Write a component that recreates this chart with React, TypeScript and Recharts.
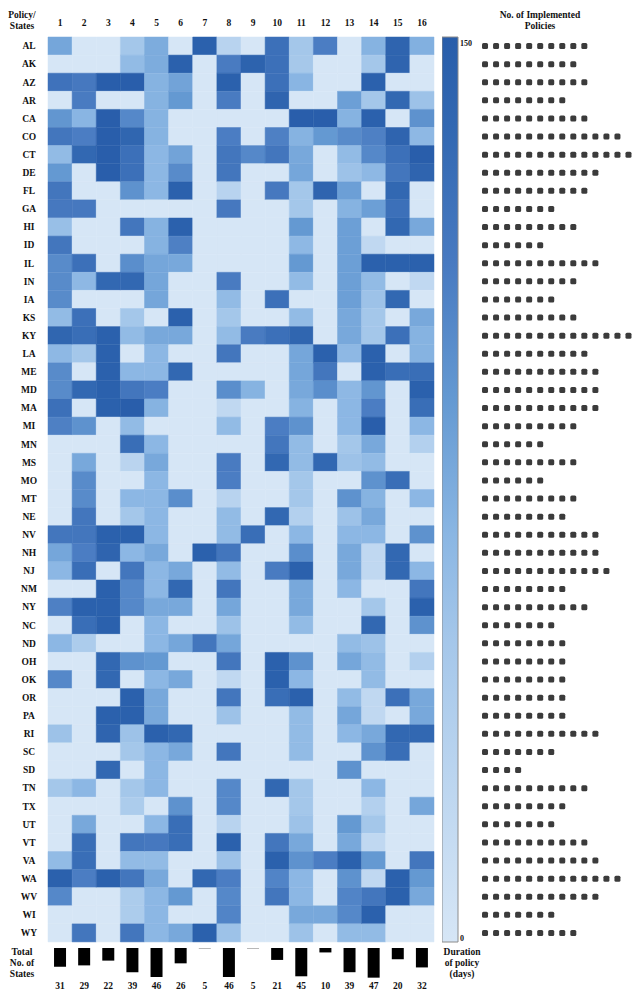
import { BarChart, Bar, XAxis, YAxis, Cell, ScatterChart, Scatter } from "recharts";

const states = [
  "AL", "AK", "AZ", "AR", "CA", "CO", "CT", "DE", "FL", "GA", "HI", "ID", "IL", "IN", "IA", "KS", "KY",
  "LA", "ME", "MD", "MA", "MI", "MN", "MS", "MO", "MT", "NE", "NV", "NH", "NJ", "NM", "NY", "NC", "ND",
  "OH", "OK", "OR", "PA", "RI", "SC", "SD", "TN", "TX", "UT", "VT", "VA", "WA", "WV", "WI", "WY",
];

const policies = ["1", "2", "3", "4", "5", "6", "7", "8", "9", "10", "11", "12", "13", "14", "15", "16"];

// total number of states per policy (bottom bars)
const totals = [31, 29, 22, 39, 46, 26, 5, 46, 5, 21, 45, 10, 39, 47, 20, 32];

// number of implemented policies per state (dot rows)
const implemented = [
  10, 9, 10, 8, 10, 13, 14, 11, 10, 7, 9, 6, 11, 9, 7, 9, 14,
  10, 11, 11, 11, 9, 6, 9, 6, 9, 8, 11, 11, 12, 8, 10, 7, 8,
  8, 8, 8, 8, 11, 7, 4, 10, 8, 7, 10, 11, 13, 11, 7, 9,
];

// duration of policy (days), one row per state, one column per policy
const duration = [
  [80, 0, 0, 50, 75, 0, 145, 30, 0, 125, 50, 110, 0, 70, 140, 72],
  [0, 0, 0, 62, 75, 145, 0, 112, 142, 125, 48, 0, 0, 50, 140, 0],
  [122, 115, 148, 148, 70, 82, 0, 145, 0, 125, 68, 0, 0, 145, 0, 0],
  [0, 112, 0, 0, 70, 90, 0, 112, 0, 140, 0, 0, 85, 50, 135, 55],
  [92, 68, 148, 102, 70, 0, 0, 0, 0, 0, 148, 148, 70, 145, 0, 95],
  [118, 110, 148, 138, 70, 0, 0, 110, 0, 108, 70, 90, 100, 108, 140, 65],
  [62, 135, 148, 125, 66, 82, 0, 118, 102, 118, 78, 0, 62, 102, 125, 148],
  [90, 0, 148, 125, 66, 100, 0, 118, 0, 0, 80, 0, 55, 65, 118, 140],
  [118, 0, 0, 95, 66, 145, 0, 30, 0, 115, 50, 140, 85, 0, 135, 0],
  [115, 115, 0, 0, 0, 0, 0, 115, 0, 0, 50, 0, 70, 85, 125, 0],
  [58, 0, 0, 118, 70, 145, 0, 0, 0, 0, 90, 0, 85, 0, 135, 78],
  [118, 0, 0, 0, 70, 108, 0, 0, 0, 0, 65, 0, 85, 22, 0, 0],
  [100, 125, 0, 98, 80, 78, 0, 0, 0, 0, 90, 0, 85, 145, 145, 145],
  [100, 65, 135, 135, 80, 0, 0, 112, 0, 0, 62, 0, 85, 62, 0, 22],
  [100, 0, 0, 0, 80, 0, 0, 62, 0, 125, 0, 0, 85, 55, 135, 0],
  [62, 125, 0, 50, 0, 145, 0, 50, 0, 0, 62, 0, 78, 50, 0, 78],
  [138, 128, 145, 62, 78, 78, 0, 62, 112, 125, 138, 0, 78, 50, 125, 70],
  [65, 50, 145, 0, 66, 0, 0, 118, 0, 0, 80, 145, 65, 145, 0, 70],
  [100, 0, 145, 66, 66, 135, 0, 0, 0, 0, 80, 118, 0, 145, 128, 128],
  [100, 135, 145, 118, 110, 0, 0, 98, 70, 0, 78, 98, 65, 92, 0, 145],
  [125, 0, 145, 148, 70, 0, 0, 22, 0, 0, 70, 0, 66, 110, 0, 128],
  [108, 95, 0, 62, 0, 0, 0, 62, 0, 110, 95, 0, 66, 148, 0, 66],
  [0, 0, 0, 128, 66, 0, 0, 0, 0, 118, 62, 0, 50, 78, 0, 35],
  [0, 78, 0, 28, 78, 0, 0, 112, 0, 135, 62, 135, 55, 62, 0, 0],
  [0, 100, 0, 0, 66, 0, 0, 110, 0, 0, 50, 0, 0, 95, 128, 0],
  [0, 100, 0, 66, 66, 98, 0, 30, 0, 0, 50, 0, 95, 70, 0, 66],
  [0, 118, 0, 50, 66, 0, 0, 62, 0, 135, 35, 0, 55, 78, 0, 0],
  [118, 118, 145, 145, 66, 0, 0, 62, 128, 0, 66, 0, 66, 66, 0, 95],
  [80, 110, 140, 66, 78, 0, 145, 118, 0, 0, 98, 0, 78, 22, 135, 0],
  [66, 128, 0, 118, 66, 78, 0, 62, 0, 112, 145, 0, 78, 22, 135, 66],
  [0, 0, 145, 102, 66, 135, 0, 118, 0, 0, 78, 0, 66, 0, 0, 118],
  [108, 145, 145, 102, 78, 78, 0, 80, 0, 0, 78, 0, 0, 50, 0, 145],
  [0, 128, 145, 0, 66, 0, 0, 55, 0, 0, 62, 0, 0, 135, 0, 95],
  [66, 42, 0, 0, 66, 80, 118, 80, 0, 0, 0, 0, 62, 55, 0, 0],
  [0, 0, 135, 95, 90, 0, 0, 118, 0, 145, 95, 0, 80, 62, 0, 35],
  [102, 0, 135, 0, 66, 78, 0, 22, 0, 145, 66, 0, 0, 62, 0, 0],
  [0, 0, 0, 145, 78, 0, 0, 118, 0, 128, 145, 0, 62, 22, 125, 78],
  [0, 0, 145, 145, 78, 0, 0, 55, 0, 0, 62, 0, 80, 22, 0, 78],
  [55, 0, 140, 55, 145, 135, 0, 0, 0, 0, 62, 0, 66, 78, 135, 135],
  [0, 0, 0, 50, 66, 78, 0, 118, 0, 0, 62, 0, 0, 95, 128, 0],
  [0, 0, 135, 0, 66, 0, 0, 0, 0, 0, 0, 0, 95, 0, 0, 0],
  [50, 66, 0, 50, 66, 0, 0, 102, 0, 135, 50, 0, 0, 66, 0, 0],
  [0, 0, 0, 42, 0, 95, 0, 102, 0, 0, 50, 0, 0, 35, 0, 80],
  [0, 78, 0, 0, 66, 128, 0, 30, 0, 0, 55, 0, 90, 50, 0, 0],
  [0, 128, 0, 118, 115, 128, 0, 145, 0, 118, 78, 0, 78, 22, 0, 0],
  [62, 128, 0, 62, 62, 0, 0, 55, 0, 145, 95, 110, 145, 90, 0, 118],
  [145, 110, 145, 118, 78, 0, 135, 110, 0, 105, 66, 0, 95, 22, 145, 90],
  [102, 0, 0, 42, 66, 90, 0, 102, 0, 118, 66, 0, 105, 118, 145, 78],
  [0, 0, 0, 42, 66, 0, 0, 105, 0, 0, 78, 78, 102, 145, 0, 0],
  [0, 118, 0, 118, 66, 78, 145, 55, 0, 0, 55, 0, 62, 62, 0, 0],
];

const MAX_DAYS = 150;

const stops: [number, number[]][] = [
  [0, [214, 230, 246]],
  [0.33, [165, 199, 234]],
  [0.45, [138, 182, 227]],
  [0.6, [100, 153, 210]],
  [0.75, [72, 122, 193]],
  [0.9, [50, 104, 178]],
  [1, [40, 93, 170]],
];

function color(v: number) {
  const t = Math.max(0, Math.min(1, v / MAX_DAYS));
  for (let i = 1; i < stops.length; i++) {
    const [t1, c1] = stops[i];
    const [t0, c0] = stops[i - 1];
    if (t <= t1) {
      const f = (t - t0) / (t1 - t0);
      const c = c0.map((a, k) => Math.round(a + (c1[k] - a) * f));
      return `rgb(${c[0]},${c[1]},${c[2]})`;
    }
  }
  return "rgb(40,93,170)";
}

const FONT = "'Liberation Serif', 'DejaVu Serif', serif";
const label = { fontFamily: FONT, fontWeight: 700, fontSize: 9.5, fill: "#111" };

// one unit-wide slot per policy so every cell gets the same width
const rows = states.map((s) => {
  const r: Record<string, string | number> = { state: s };
  policies.forEach((_, j) => (r[`s${j}`] = 1));
  return r;
});

const dots = implemented.flatMap((n, i) => Array.from({ length: n }, (_, k) => ({ x: k + 1, y: i })));

const bottomData = policies.map((p, i) => ({ policy: p, total: totals[i] }));

const StateTick = ({ x, y, payload }: any) => (
  <text x={x - 19} y={y} dy="0.35em" textAnchor="middle" style={label as any}>
    {payload.value}
  </text>
);

const DotShape = ({ cx, cy }: any) => (
  <rect x={cx - 3} y={cy - 3} width={6} height={6} rx={1.5} fill="#3b3b3b" />
);

const ScaleTick = ({ x, y, payload }: any) => (
  <text x={x} y={payload.value === MAX_DAYS ? y + 6 : y - 4} dy="0.35em" textAnchor="start"
    style={{ fontFamily: FONT, fontWeight: 700, fontSize: 8, fill: "#111" }}>
    {String(payload.value)}
  </text>
);

const textBlock = (left: number, top: number, width: number, lines: string[]) => (
  <div style={{
    position: "absolute", left, top, width, textAlign: "center", fontFamily: FONT,
    fontWeight: 700, fontSize: 9.5, lineHeight: "10.8px", color: "#111",
  }}>
    {lines.map((l) => <div key={l}>{l}</div>)}
  </div>
);

export default function App() {
  return (
    <div style={{ position: "absolute", left: 0, top: 0, width: 643, height: 994, background: "#fff" }}>
      {textBlock(2, 10, 40, ["Policy/", "States"])}
      {textBlock(480, 10, 120, ["No. of Implemented", "Policies"])}
      {textBlock(2, 947, 40, ["Total", "No. of", "States"])}
      {textBlock(432, 947, 60, ["Duration", "of policy", "(days)"])}

      <div style={{ position: "absolute", left: 0, top: 0 }}>
        <BarChart width={440} height={945} data={rows} layout="vertical"
          margin={{ top: 7, right: 6, bottom: 3, left: 0 }} barCategoryGap={0} barGap={0}>
          <XAxis type="number" domain={[0, policies.length]} orientation="top" height={30}
            ticks={policies.map((_, j) => j + 0.5)} tickFormatter={(v) => policies[Math.floor(v)]}
            axisLine={false} tickLine={false} tickSize={0} tickMargin={11} tick={label} interval={0} />
          <YAxis type="category" dataKey="state" width={48} axisLine={false} tickLine={false}
            tickSize={0} tickMargin={0} tick={<StateTick />} interval={0} />
          {policies.map((p, j) => (
            <Bar key={p} dataKey={`s${j}`} stackId="h" isAnimationActive={false}>
              {states.map((s, i) => (
                <Cell key={s} fill={color(duration[i][j])} stroke={color(duration[i][j])} strokeWidth={0.5} />
              ))}
            </Bar>
          ))}
        </BarChart>
      </div>

      <div style={{ position: "absolute", left: 442, top: 0 }}>
        <BarChart width={40} height={945} data={[{ name: "scale", v: MAX_DAYS }]}
          margin={{ top: 37, right: 0, bottom: 3, left: 0 }} barCategoryGap={0}>
          <defs>
            <linearGradient id="cbar" x1="0" y1="0" x2="0" y2="1">
              {stops.slice().reverse().map(([t, c]) => (
                <stop key={t} offset={1 - t} stopColor={`rgb(${c[0]},${c[1]},${c[2]})`} />
              ))}
            </linearGradient>
          </defs>
          <XAxis dataKey="name" hide />
          <YAxis orientation="right" domain={[0, MAX_DAYS]} ticks={[0, MAX_DAYS]} width={24} interval={0}
            axisLine={false} tickLine={false} tickSize={0} tickMargin={2} tick={<ScaleTick />} />
          <Bar dataKey="v" fill="url(#cbar)" stroke="#8c8c8c" strokeWidth={1} isAnimationActive={false} />
        </BarChart>
      </div>

      <div style={{ position: "absolute", left: 470, top: 0 }}>
        <ScatterChart width={170} height={945} margin={{ top: 37, right: 6, bottom: 3, left: 9.5 }}>
          <XAxis type="number" dataKey="x" domain={[0.5, 14.5]} hide />
          <YAxis type="number" dataKey="y" domain={[-0.5, states.length - 0.5]} reversed hide />
          <Scatter data={dots} shape={<DotShape />} isAnimationActive={false} />
        </ScatterChart>
      </div>

      <div style={{ position: "absolute", left: 0, top: 940 }}>
        <BarChart width={440} height={54} data={bottomData}
          margin={{ top: 8, right: 6, bottom: 0, left: 48 }} barCategoryGap="25%">
          <XAxis dataKey="policy" height={16} axisLine={false} tickLine={false} tickSize={0} tickMargin={4}
            tickFormatter={(_, i) => String(totals[i])} tick={label} interval={0} />
          <YAxis domain={[3.5, 47.5]} reversed hide allowDataOverflow />
          <Bar dataKey="total" isAnimationActive={false}>
            {totals.map((t, i) => (
              <Cell key={i} fill={t <= 5 ? "#b8b8b8" : "#000"} />
            ))}
          </Bar>
        </BarChart>
      </div>
    </div>
  );
}
